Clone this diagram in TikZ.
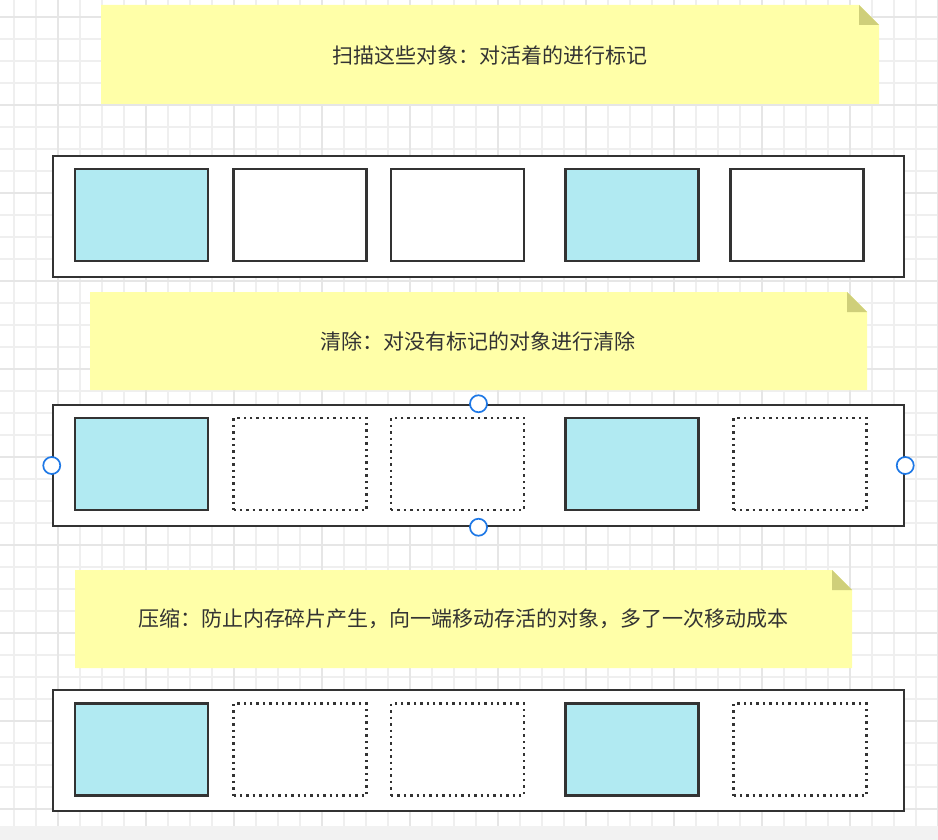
\documentclass[tikz,border=0pt]{standalone}
\usepackage{fontspec}
\newfontfamily\cjk{Noto Sans CJK SC}
\definecolor{gridminor}{HTML}{EFEFEF}
\definecolor{gridmajor}{HTML}{E6E6E6}
\definecolor{notefill}{HTML}{FFFFA8}
\definecolor{notefold}{HTML}{CFCF7A}
\definecolor{livefill}{HTML}{B1EAF2}
\definecolor{edge}{HTML}{333333}
\definecolor{txt}{HTML}{333333}
\definecolor{handleblue}{HTML}{1E78E6}
\definecolor{strip}{HTML}{F2F2F2}
\tikzset{
  heap/.style={draw=edge, line width=2.5pt, fill=white, rectangle, inner sep=0pt, minimum width=851pt, minimum height=121pt},
  cellbox/.style={draw=edge, line width=2.3pt, rectangle, inner sep=0pt, minimum width=133pt, minimum height=92pt},
  live/.style={cellbox, fill=livefill},
  dead/.style={cellbox, fill=white},
  freed/.style={draw=edge, line width=2.7pt, dash pattern=on 2.4pt off 4pt, rectangle, inner sep=0pt, minimum width=133pt, minimum height=92pt, fill=white},
  notetext/.style={text=txt, font=\cjk\fontsize{21}{25}\selectfont, inner sep=0pt},
  handle/.style={circle, draw=handleblue, line width=1.7pt, fill=white, minimum size=17pt, inner sep=0pt},
}
\begin{document}
\begin{tikzpicture}[x=1pt, y=-1pt]
\useasboundingbox (0,0) rectangle (938,840);
% background grid
\fill[white] (0,0) rectangle (938,840);
\foreach \x in {14,36,...,938} \draw[gridminor, line width=1.4pt] (\x,0) -- (\x,826);
\foreach \y in {17,39,...,826} \draw[gridminor, line width=1.4pt] (0,\y) -- (938,\y);
\foreach \x in {58,146,...,938} \draw[gridmajor, line width=1.8pt] (\x,0) -- (\x,826);
\foreach \y in {17,105,...,826} \draw[gridmajor, line width=1.8pt] (0,\y) -- (938,\y);
\fill[strip] (0,826) rectangle (938,840);

% note 1
\fill[notefill] (101,5) -- (859,5) -- (879,25) -- (879,104) -- (101,104) -- cycle;
\fill[notefold] (859,5) -- (879,25) -- (859,25) -- cycle;
\node[notetext] (t1) at (490,55) {扫描这些对象：对活着的进行标记};

% heap 1
\node[heap] (h1) at (478.5,216.5) {};
\node[live] (a1) at (141.5,215) {};
\node[dead] (a2) at (300,215) {};
\node[dead] (a3) at (457.5,215) {};
\node[live] (a4) at (632,215) {};
\node[dead] (a5) at (797,215) {};

% note 2
\fill[notefill] (90,292) -- (847,292) -- (867,312) -- (867,390) -- (90,390) -- cycle;
\fill[notefold] (847,292) -- (867,312) -- (847,312) -- cycle;
\node[notetext] (t2) at (478,341) {清除：对没有标记的对象进行清除};

% heap 2
\node[heap] (h2) at (478.5,465.5) {};
\node[live] (b1) at (141.5,464) {};
\node[freed] (b2) at (300,464) {};
\node[freed] (b3) at (457.5,464) {};
\node[live] (b4) at (632,464) {};
\node[freed] (b5) at (800,464) {};
\node[handle] (s1) at (h2.north) {};
\node[handle] (s2) at (h2.south) {};
\node[handle] (s3) at (h2.west) {};
\node[handle] (s4) at (h2.east) {};

% note 3
\fill[notefill] (75,570) -- (832,570) -- (852,590) -- (852,668) -- (75,668) -- cycle;
\fill[notefold] (832,570) -- (852,590) -- (832,590) -- cycle;
\node[notetext] (t3) at (463.5,619) {压缩：防止内存碎片产生，向一端移动存活的对象，多了一次移动成本};

% heap 3
\node[heap] (h3) at (478.5,750.5) {};
\node[live] (c1) at (141.5,749.5) {};
\node[freed] (c2) at (300,749.5) {};
\node[freed] (c3) at (457.5,749.5) {};
\node[live] (c4) at (632,749.5) {};
\node[freed] (c5) at (800,749.5) {};
\end{tikzpicture}
\end{document}
